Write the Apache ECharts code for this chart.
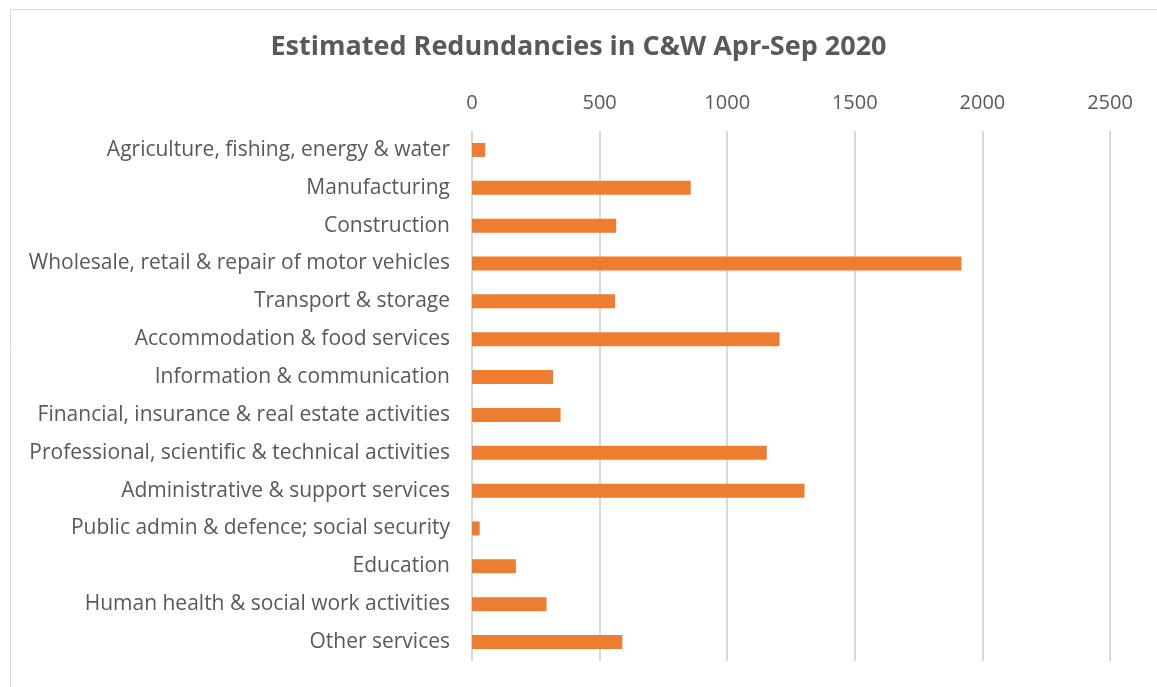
<!DOCTYPE html>
<html>
<head>
<meta charset="utf-8">
<title>Estimated Redundancies in C&amp;W Apr-Sep 2020</title>
<script src="https://cdn.jsdelivr.net/npm/echarts@6/dist/echarts.min.js"></script>
<style>
  html, body { margin: 0; padding: 0; background: #fff; }
  #chart { width: 1157px; height: 687px; }
</style>
</head>
<body>
<div id="chart"></div>
<script>
// sectors, top to bottom
const sectors = [
  "Agriculture, fishing, energy & water",
  "Manufacturing",
  "Construction",
  "Wholesale, retail & repair of motor vehicles",
  "Transport & storage",
  "Accommodation & food services",
  "Information & communication",
  "Financial, insurance & real estate activities",
  "Professional, scientific & technical activities",
  "Administrative & support services",
  "Public admin & defence; social security",
  "Education",
  "Human health & social work activities",
  "Other services"
];

// estimated redundancies
const redundancies = [52, 857, 565, 1918, 561, 1205, 318, 347, 1155, 1303, 30, 172, 292, 589];

const axisMin = 0;
const axisMax = 2500;
const axisStep = 500;

const textColor = "#595959";
const fontName = "'Open Sans', 'Liberation Sans', sans-serif";

const chart = echarts.init(document.getElementById("chart"));

chart.setOption({
  animation: false,
  textStyle: { fontFamily: fontName },
  graphic: [
    {
      type: "rect",
      left: 8,
      top: 7,
      shape: { width: 1160, height: 700 },
      style: { fill: "none", stroke: "#d9d9d9", lineWidth: 1 },
      silent: true
    }
  ],
  title: {
    text: "Estimated Redundancies in C&W Apr-Sep 2020",
    left: "center",
    top: 29,
    textStyle: {
      fontFamily: fontName,
      fontSize: 27,
      fontWeight: "bold",
      color: textColor
    }
  },
  grid: {
    left: 472,
    right: 47,
    top: 131,
    bottom: 26,
    containLabel: false
  },
  xAxis: {
    type: "value",
    position: "top",
    min: axisMin,
    max: axisMax,
    interval: axisStep,
    axisLine: { show: false },
    axisTick: { show: false },
    axisLabel: {
      color: textColor,
      fontSize: 20,
      margin: 18,
      formatter: (v) => String(v)
    },
    splitLine: {
      show: true,
      lineStyle: { color: "#d9d9d9", width: 2 }
    }
  },
  yAxis: {
    type: "category",
    data: sectors,
    inverse: true,
    axisLine: { show: false },
    axisTick: { show: false },
    axisLabel: {
      color: textColor,
      fontSize: 21,
      margin: 22,
      padding: [9, 0, 0, 0]
    }
  },
  series: [
    {
      type: "bar",
      data: redundancies,
      barWidth: 14,
      itemStyle: { color: "#ed7d31" }
    }
  ]
});
</script>
</body>
</html>
